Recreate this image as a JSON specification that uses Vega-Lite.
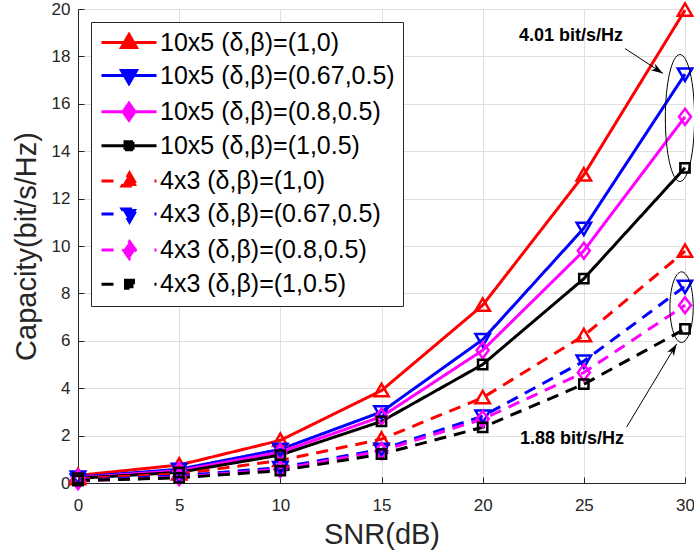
{
  "$schema": "https://vega.github.io/schema/vega-lite/v6.json",
  "width": 607,
  "height": 474,
  "autosize": "none",
  "padding": {"left": 78, "top": 9, "right": 9, "bottom": 77},
  "background": "white",
  "config": {
    "view": {"stroke": "#262626", "strokeWidth": 1},
    "font": "Liberation Sans",
    "axis": {
      "domainColor": "#262626", "domainWidth": 1,
      "ticks": true, "tickSize": -6, "tickColor": "#262626", "tickWidth": 1,
      "gridColor": "#e0e0e0", "gridWidth": 1,
      "labelFont": "Liberation Sans", "labelFontSize": 17, "labelColor": "#262626",
      "labelFlush": false, "labelOverlap": false,
      "titleFont": "Liberation Sans", "titleFontSize": 29, "titleFontWeight": "normal", "titleColor": "#262626"
    },
    "legend": {
      "orient": "top-left", "offset": 13, "padding": 8,
      "fillColor": "white", "strokeColor": "#262626", "strokeWidth": 1, "cornerRadius": 0,
      "labelFont": "Liberation Sans", "labelFontSize": 25, "labelColor": "#000000", "labelLimit": 400,
      "labelOffset": 36, "symbolSize": 400, "symbolStrokeWidth": 3, "symbolOpacity": 1, "rowPadding": 7.1
    }
  },
  "datasets": {
    "curves": [
      {"snr": 0, "cap": 0.32, "series": "10x5 (δ,β)=(1,0)"},
      {"snr": 5, "cap": 0.76, "series": "10x5 (δ,β)=(1,0)"},
      {"snr": 10, "cap": 1.8, "series": "10x5 (δ,β)=(1,0)"},
      {"snr": 15, "cap": 3.9, "series": "10x5 (δ,β)=(1,0)"},
      {"snr": 20, "cap": 7.5, "series": "10x5 (δ,β)=(1,0)"},
      {"snr": 25, "cap": 13.0, "series": "10x5 (δ,β)=(1,0)"},
      {"snr": 30, "cap": 19.95, "series": "10x5 (δ,β)=(1,0)"},
      {"snr": 0, "cap": 0.25, "series": "10x5 (δ,β)=(0.67,0.5)"},
      {"snr": 5, "cap": 0.58, "series": "10x5 (δ,β)=(0.67,0.5)"},
      {"snr": 10, "cap": 1.42, "series": "10x5 (δ,β)=(0.67,0.5)"},
      {"snr": 15, "cap": 3.0, "series": "10x5 (δ,β)=(0.67,0.5)"},
      {"snr": 20, "cap": 6.05, "series": "10x5 (δ,β)=(0.67,0.5)"},
      {"snr": 25, "cap": 10.75, "series": "10x5 (δ,β)=(0.67,0.5)"},
      {"snr": 30, "cap": 17.25, "series": "10x5 (δ,β)=(0.67,0.5)"},
      {"snr": 0, "cap": 0.22, "series": "10x5 (δ,β)=(0.8,0.5)"},
      {"snr": 5, "cap": 0.52, "series": "10x5 (δ,β)=(0.8,0.5)"},
      {"snr": 10, "cap": 1.3, "series": "10x5 (δ,β)=(0.8,0.5)"},
      {"snr": 15, "cap": 2.8, "series": "10x5 (δ,β)=(0.8,0.5)"},
      {"snr": 20, "cap": 5.6, "series": "10x5 (δ,β)=(0.8,0.5)"},
      {"snr": 25, "cap": 9.8, "series": "10x5 (δ,β)=(0.8,0.5)"},
      {"snr": 30, "cap": 15.45, "series": "10x5 (δ,β)=(0.8,0.5)"},
      {"snr": 0, "cap": 0.2, "series": "10x5 (δ,β)=(1,0.5)"},
      {"snr": 5, "cap": 0.45, "series": "10x5 (δ,β)=(1,0.5)"},
      {"snr": 10, "cap": 1.18, "series": "10x5 (δ,β)=(1,0.5)"},
      {"snr": 15, "cap": 2.6, "series": "10x5 (δ,β)=(1,0.5)"},
      {"snr": 20, "cap": 5.0, "series": "10x5 (δ,β)=(1,0.5)"},
      {"snr": 25, "cap": 8.62, "series": "10x5 (δ,β)=(1,0.5)"},
      {"snr": 30, "cap": 13.3, "series": "10x5 (δ,β)=(1,0.5)"},
      {"snr": 0, "cap": 0.18, "series": "4x3 (δ,β)=(1,0)"},
      {"snr": 5, "cap": 0.38, "series": "4x3 (δ,β)=(1,0)"},
      {"snr": 10, "cap": 0.95, "series": "4x3 (δ,β)=(1,0)"},
      {"snr": 15, "cap": 1.85, "series": "4x3 (δ,β)=(1,0)"},
      {"snr": 20, "cap": 3.6, "series": "4x3 (δ,β)=(1,0)"},
      {"snr": 25, "cap": 6.22, "series": "4x3 (δ,β)=(1,0)"},
      {"snr": 30, "cap": 9.78, "series": "4x3 (δ,β)=(1,0)"},
      {"snr": 0, "cap": 0.12, "series": "4x3 (δ,β)=(0.67,0.5)"},
      {"snr": 5, "cap": 0.3, "series": "4x3 (δ,β)=(0.67,0.5)"},
      {"snr": 10, "cap": 0.65, "series": "4x3 (δ,β)=(0.67,0.5)"},
      {"snr": 15, "cap": 1.42, "series": "4x3 (δ,β)=(0.67,0.5)"},
      {"snr": 20, "cap": 2.82, "series": "4x3 (δ,β)=(0.67,0.5)"},
      {"snr": 25, "cap": 5.14, "series": "4x3 (δ,β)=(0.67,0.5)"},
      {"snr": 30, "cap": 8.3, "series": "4x3 (δ,β)=(0.67,0.5)"},
      {"snr": 0, "cap": 0.08, "series": "4x3 (δ,β)=(0.8,0.5)"},
      {"snr": 5, "cap": 0.25, "series": "4x3 (δ,β)=(0.8,0.5)"},
      {"snr": 10, "cap": 0.58, "series": "4x3 (δ,β)=(0.8,0.5)"},
      {"snr": 15, "cap": 1.35, "series": "4x3 (δ,β)=(0.8,0.5)"},
      {"snr": 20, "cap": 2.7, "series": "4x3 (δ,β)=(0.8,0.5)"},
      {"snr": 25, "cap": 4.66, "series": "4x3 (δ,β)=(0.8,0.5)"},
      {"snr": 30, "cap": 7.5, "series": "4x3 (δ,β)=(0.8,0.5)"},
      {"snr": 0, "cap": 0.1, "series": "4x3 (δ,β)=(1,0.5)"},
      {"snr": 5, "cap": 0.22, "series": "4x3 (δ,β)=(1,0.5)"},
      {"snr": 10, "cap": 0.52, "series": "4x3 (δ,β)=(1,0.5)"},
      {"snr": 15, "cap": 1.22, "series": "4x3 (δ,β)=(1,0.5)"},
      {"snr": 20, "cap": 2.35, "series": "4x3 (δ,β)=(1,0.5)"},
      {"snr": 25, "cap": 4.17, "series": "4x3 (δ,β)=(1,0.5)"},
      {"snr": 30, "cap": 6.5, "series": "4x3 (δ,β)=(1,0.5)"}
    ],
    "arrows": [
      {"name": "upper", "x0": 27.04, "y0": 18.33, "x1": 28.91, "y1": 17.28},
      {"name": "lower", "x0": 27.12, "y0": 2.37, "x1": 29.59, "y1": 5.87}
    ],
    "ellipses": [
      {"name": "upper", "snr": 29.75, "cap": 15.4},
      {"name": "lower", "snr": 29.83, "cap": 7.42}
    ],
    "notes": [
      {"snr": 24.37, "cap": 18.87, "label": "4.01 bit/s/Hz"},
      {"snr": 24.42, "cap": 1.84, "label": "1.88 bit/s/Hz"}
    ]
  },
  "layer": [
    {
      "data": {"name": "curves"},
      "mark": {"type": "line", "strokeWidth": 3},
      "encoding": {
        "x": {"field": "snr", "type": "quantitative",
          "scale": {"domain": [0, 30], "nice": false, "zero": false},
          "axis": {"title": "SNR(dB)", "values": [0, 5, 10, 15, 20, 25, 30], "grid": true, "labelPadding": 20, "titlePadding": 7}},
        "y": {"field": "cap", "type": "quantitative",
          "scale": {"domain": [0, 20], "nice": false},
          "axis": {"title": "Capacity(bit/s/Hz)", "values": [0, 2, 4, 6, 8, 10, 12, 14, 16, 18, 20], "grid": true, "labelPadding": 14, "titlePadding": 10}},
        "color": {"field": "series", "type": "nominal",
          "scale": {"domain": ["10x5 (δ,β)=(1,0)", "10x5 (δ,β)=(0.67,0.5)", "10x5 (δ,β)=(0.8,0.5)", "10x5 (δ,β)=(1,0.5)", "4x3 (δ,β)=(1,0)", "4x3 (δ,β)=(0.67,0.5)", "4x3 (δ,β)=(0.8,0.5)", "4x3 (δ,β)=(1,0.5)"],
            "range": ["#ff0000", "#0000ff", "#ff00ff", "#000000", "#ff0000", "#0000ff", "#ff00ff", "#000000"]},
          "legend": {"title": null}},
        "strokeDash": {"field": "series", "type": "nominal", "legend": null,
          "scale": {"domain": ["10x5 (δ,β)=(1,0)", "10x5 (δ,β)=(0.67,0.5)", "10x5 (δ,β)=(0.8,0.5)", "10x5 (δ,β)=(1,0.5)", "4x3 (δ,β)=(1,0)", "4x3 (δ,β)=(0.67,0.5)", "4x3 (δ,β)=(0.8,0.5)", "4x3 (δ,β)=(1,0.5)"],
            "range": [[1, 0], [1, 0], [1, 0], [1, 0], [12, 8], [12, 8], [12, 8], [12, 8]]}}
      }
    },
    {
      "data": {"name": "curves"},
      "mark": {"type": "point", "filled": true, "opacity": 0, "size": 400},
      "encoding": {
        "x": {"field": "snr", "type": "quantitative"},
        "y": {"field": "cap", "type": "quantitative"},
        "color": {"field": "series", "type": "nominal", "legend": {"title": null}},
        "shape": {"field": "series", "type": "nominal", "legend": {"title": null},
          "scale": {"domain": ["10x5 (δ,β)=(1,0)", "10x5 (δ,β)=(0.67,0.5)", "10x5 (δ,β)=(0.8,0.5)", "10x5 (δ,β)=(1,0.5)", "4x3 (δ,β)=(1,0)", "4x3 (δ,β)=(0.67,0.5)", "4x3 (δ,β)=(0.8,0.5)", "4x3 (δ,β)=(1,0.5)"],
            "range": ["M-1,0H4.5M1.75,-0.8L2.5,0.5L1,0.5Z", "M-1,0H4.5M1.75,0.8L2.5,-0.5L1,-0.5Z", "M-1,0H4.5M1.75,-0.85L2.35,0L1.75,0.85L1.15,0Z", "M-1,0H4.5M1.35,-0.4H2.15V0.4H1.35Z", "M-1,0H0.2M4.3,0H4.5M1.8,-0.8L2.55,0.5L1.05,0.5Z", "M-1,0H0.2M4.3,0H4.5M1.8,0.8L2.55,-0.5L1.05,-0.5Z", "M-1,0H0.2M4.3,0H4.5M1.8,-0.85L2.4,0L1.8,0.85L1.2,0Z", "M-1,0H0.2M4.3,0H4.5M1.4,-0.4H2.2V0.4H1.4Z"]}}
      }
    },
    {
      "data": {"name": "curves"},
      "transform": [{"filter": {"field": "series", "oneOf": ["10x5 (δ,β)=(1,0)", "4x3 (δ,β)=(1,0)"]}}],
      "mark": {"type": "point", "filled": false, "strokeWidth": 2.5, "size": 256, "opacity": 1, "shape": "M0,-0.85L0.9,0.7L-0.9,0.7Z"},
      "encoding": {
        "x": {"field": "snr", "type": "quantitative"},
        "y": {"field": "cap", "type": "quantitative"},
        "color": {"field": "series", "type": "nominal", "legend": {"title": null}}
      }
    },
    {
      "data": {"name": "curves"},
      "transform": [{"filter": {"field": "series", "oneOf": ["10x5 (δ,β)=(0.67,0.5)", "4x3 (δ,β)=(0.67,0.5)"]}}],
      "mark": {"type": "point", "filled": false, "strokeWidth": 2.5, "size": 256, "opacity": 1, "shape": "M0,0.85L0.9,-0.7L-0.9,-0.7Z"},
      "encoding": {
        "x": {"field": "snr", "type": "quantitative"},
        "y": {"field": "cap", "type": "quantitative"},
        "color": {"field": "series", "type": "nominal", "legend": {"title": null}}
      }
    },
    {
      "data": {"name": "curves"},
      "transform": [{"filter": {"field": "series", "oneOf": ["10x5 (δ,β)=(0.8,0.5)", "4x3 (δ,β)=(0.8,0.5)"]}}],
      "mark": {"type": "point", "filled": false, "strokeWidth": 2.5, "size": 256, "opacity": 1, "shape": "M0,-1L0.75,0L0,1L-0.75,0Z"},
      "encoding": {
        "x": {"field": "snr", "type": "quantitative"},
        "y": {"field": "cap", "type": "quantitative"},
        "color": {"field": "series", "type": "nominal", "legend": {"title": null}}
      }
    },
    {
      "data": {"name": "curves"},
      "transform": [{"filter": {"field": "series", "oneOf": ["10x5 (δ,β)=(1,0.5)", "4x3 (δ,β)=(1,0.5)"]}}],
      "mark": {"type": "point", "filled": false, "strokeWidth": 2.5, "size": 256, "opacity": 1, "shape": "M-0.58,-0.58H0.58V0.58H-0.58Z"},
      "encoding": {
        "x": {"field": "snr", "type": "quantitative"},
        "y": {"field": "cap", "type": "quantitative"},
        "color": {"field": "series", "type": "nominal", "legend": {"title": null}}
      }
    },
    {
      "data": {"name": "arrows"},
      "mark": {"type": "rule", "color": "#000000", "strokeWidth": 1},
      "encoding": {
        "x": {"field": "x0", "type": "quantitative"},
        "y": {"field": "y0", "type": "quantitative"},
        "x2": {"field": "x1"},
        "y2": {"field": "y1"}
      }
    },
    {
      "data": {"name": "arrows"},
      "transform": [{"filter": "datum.name == 'upper'"}],
      "mark": {"type": "point", "filled": true, "color": "#000000", "opacity": 1, "size": 196, "angle": 123, "shape": "M0,0L0.55,1.7L0,1.25L-0.55,1.7Z"},
      "encoding": {
        "x": {"field": "x1", "type": "quantitative"},
        "y": {"field": "y1", "type": "quantitative"}
      }
    },
    {
      "data": {"name": "arrows"},
      "transform": [{"filter": "datum.name == 'lower'"}],
      "mark": {"type": "point", "filled": true, "color": "#000000", "opacity": 1, "size": 196, "angle": 31, "shape": "M0,0L0.55,1.7L0,1.25L-0.55,1.7Z"},
      "encoding": {
        "x": {"field": "x1", "type": "quantitative"},
        "y": {"field": "y1", "type": "quantitative"}
      }
    },
    {
      "data": {"name": "ellipses"},
      "transform": [{"filter": "datum.name == 'upper'"}],
      "mark": {"type": "point", "filled": false, "color": "#000000", "opacity": 1, "strokeWidth": 1, "size": 16129, "shape": "M0,-1A0.23,1 0 1,1 0,1A0.23,1 0 1,1 0,-1Z"},
      "encoding": {
        "x": {"field": "snr", "type": "quantitative"},
        "y": {"field": "cap", "type": "quantitative"}
      }
    },
    {
      "data": {"name": "ellipses"},
      "transform": [{"filter": "datum.name == 'lower'"}],
      "mark": {"type": "point", "filled": false, "color": "#000000", "opacity": 1, "strokeWidth": 1, "size": 4984, "shape": "M0,-1A0.33,1 0 1,1 0,1A0.33,1 0 1,1 0,-1Z"},
      "encoding": {
        "x": {"field": "snr", "type": "quantitative"},
        "y": {"field": "cap", "type": "quantitative"}
      }
    },
    {
      "data": {"name": "notes"},
      "mark": {"type": "text", "font": "Liberation Sans", "fontWeight": "bold", "fontSize": 18, "color": "#000000", "align": "center", "baseline": "middle"},
      "encoding": {
        "x": {"field": "snr", "type": "quantitative"},
        "y": {"field": "cap", "type": "quantitative"},
        "text": {"field": "label"}
      }
    }
  ]
}
